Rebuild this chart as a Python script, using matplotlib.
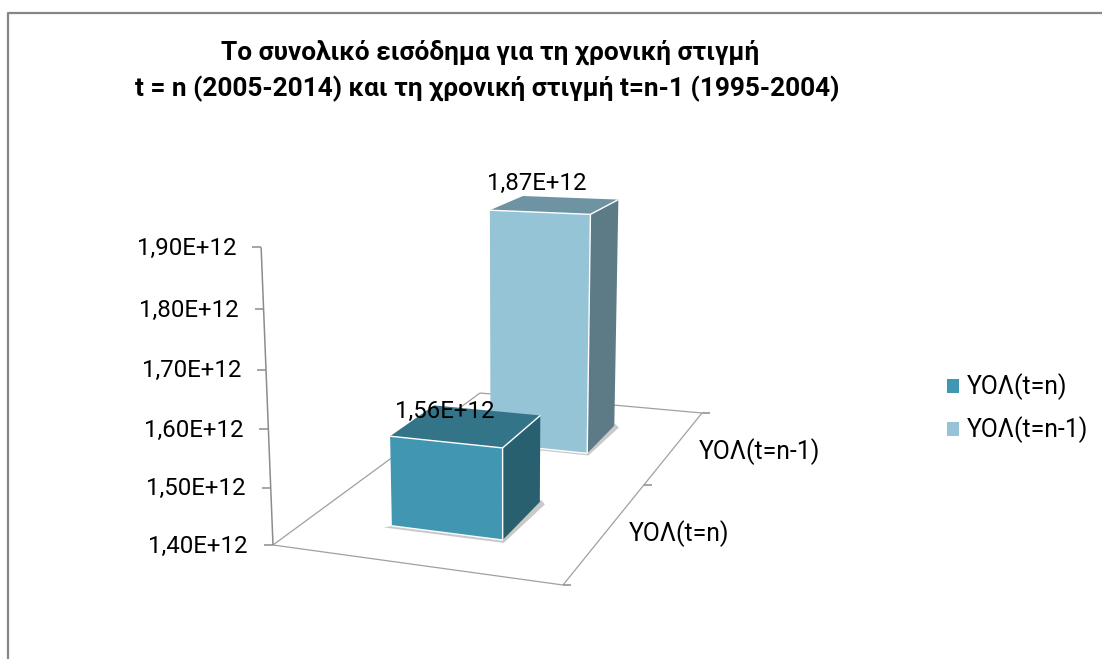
import numpy as np
import matplotlib
matplotlib.use('Agg')
import matplotlib.pyplot as plt
from matplotlib.patches import Polygon, Patch

plt.rcParams['font.family'] = ['Roboto', 'DejaVu Sans']

title_lines = ['Το συνολικό εισόδημα για τη χρονική στιγμή',
               't = n (2005-2014) και τη χρονική στιγμή t=n-1 (1995-2004)']
categories = ['ΥΟΛ(t=n)', 'ΥΟΛ(t=n-1)']
values = [1.56e12, 1.87e12]
y_ticks = [1.40e12, 1.50e12, 1.60e12, 1.70e12, 1.80e12, 1.90e12]
front_colors = ['#4197B1', '#95C4D6']
top_colors = ['#337488', '#6E93A3']
side_colors = ['#28606F', '#5D7A87']

y_min, y_max = y_ticks[0], y_ticks[-1]

# floor homography, unit square (u across, v depth) to image pixels
H = np.array([[247.6691729322287, 376.62406015017086, 272.9999999999973],
              [-3.9849624060596978, -13.120300751978307, 544.9999999999295],
              [-0.07518796992485349, 0.3533834586462684, 1.0]])

# points, used to fit the height direction
calib = [(0, 0, 1, 263, 247), (0, 0, .8, 265, 308), (0, 0, .6, 267, 369),
         (0, 0, .4, 269, 429), (0, 0, .2, 271, 487),
         (.3, .15, .32, 392, 437), (.7, .15, .32, 503, 449),
         (.7, .35, .32, 540, 417), (.3, .35, .32, 417, 412),
         (.3, .65, .94, 491, 209), (.7, .65, .94, 591, 215),
         (.7, .85, .94, 618, 200), (.3, .85, .94, 523, 195)]
A, b = [], []
for u, v, w, X, Y in calib:
    a = H @ np.array([u, v, 1.0])
    A.append([w, 0, -X * w])
    b.append(X * a[2] - a[0])
    A.append([0, w, -Y * w])
    b.append(Y * a[2] - a[1])
c = np.linalg.lstsq(np.array(A), np.array(b), rcond=None)[0]


def project(u, v, value=y_min):
    w = (value - y_min) / (y_max - y_min)
    q = H @ np.array([u, v, 1.0]) + w * c
    return q[0] / q[2], q[1] / q[2]


def fmt(value):
    return f'{value:.2E}'.replace('.', ',')


def line(p0, p1, color='#A0A0A0', lw=0.9):
    ax.plot([p0[0], p1[0]], [p0[1], p1[1]], color=color, lw=lw, solid_capstyle='butt')


def face(points, color):
    ax.add_patch(Polygon(points, facecolor=color, edgecolor='none', zorder=2))


fig = plt.figure(figsize=(11.02, 6.59), dpi=100)
ax = fig.add_axes([0, 0, 1, 1])
ax.set_xlim(0, 1102)
ax.set_ylim(659, 0)
ax.axis('off')

# chart frame
ax.plot([8, 8, 1102], [659, 13, 13], color='#868686', lw=1.6)

ax.text(490, 52, title_lines[0], ha='center', va='center', fontsize=18.9, fontweight='bold')
ax.text(487, 89, title_lines[1], ha='center', va='center', fontsize=18.9, fontweight='bold')

# floor
corners = [project(0, 0), project(1, 0), project(1, 1), project(0, 1)]
for i in range(4):
    line(corners[i], corners[(i + 1) % 4])

# value axis
line(project(0, 0, y_ticks[0]), project(0, 0, y_ticks[-1]), color='#8C8C8C', lw=1.1)
for tick in y_ticks:
    x, y = project(0, 0, tick)
    line((x - 9, y), (x, y), color='#8C8C8C', lw=1.1)
    ax.text(x - 25, y + 1, fmt(tick), ha='right', va='center', fontsize=17.3)

# depth axis ticks and category labels
for v in [0, 0.5, 1]:
    x, y = project(1, v)
    line((x, y), (x + 8, y), color='#8C8C8C', lw=1.1)
cat_dx, cat_dy = [72, 85], [3, 5]
for i, name in enumerate(categories):
    x, y = project(1, 0.25 + 0.5 * i)
    ax.text(x + cat_dx[i], y + cat_dy[i], name, ha='center', va='center', fontsize=17.8)

# bars, back one first
u0, u1 = 0.3, 0.7
bar_data = list(zip(values, front_colors, top_colors, side_colors, [0.15, 0.65]))
for value, front, top, side, v0 in reversed(bar_data):
    v1 = v0 + 0.2
    face([project(u0 - 0.02, v0 - 0.012), project(u1 + 0.012, v0 - 0.012),
          project(u1 + 0.025, v1 - 0.01), project(u1, v1 + 0.01)], '#C9C9C9')
    face([project(u0, v0), project(u1, v0), project(u1, v0, value), project(u0, v0, value)], front)
    face([project(u1, v0), project(u1, v1), project(u1, v1, value), project(u1, v0, value)], side)
    face([project(u0, v0, value), project(u1, v0, value), project(u1, v1, value), project(u0, v1, value)], top)
    # white highlights along the near edges
    line(project(u0, v0, value), project(u1, v0, value), color='white', lw=1.0)
    line(project(u1, v0), project(u1, v0, value), color='white', lw=1.0)
    line(project(u1, v0, value), project(u1, v1, value), color='white', lw=1.0)
    line(project(u0, v0), project(u1, v0), color='white', lw=1.0)

label_dx, label_dy = [-22, -18], [-14, -21]
for i, (value, v0) in enumerate(zip(values, [0.15, 0.65])):
    x, y = project(0.5, v0 + 0.1, value)
    ax.text(x + label_dx[i], y + label_dy[i], fmt(value), ha='center', va='center', fontsize=17.3, zorder=4)

handles = [Patch(facecolor=col, edgecolor='none') for col in front_colors]
ax.legend(handles, categories, loc='center left', bbox_to_anchor=(937 / 1102, 1 - 408.5 / 659),
          frameon=False, fontsize=17.8, handlelength=0.5, handleheight=0.5,
          handletextpad=0.32, labelspacing=0.65, borderpad=0, borderaxespad=0.4)

fig.savefig('out.png', dpi=100)
